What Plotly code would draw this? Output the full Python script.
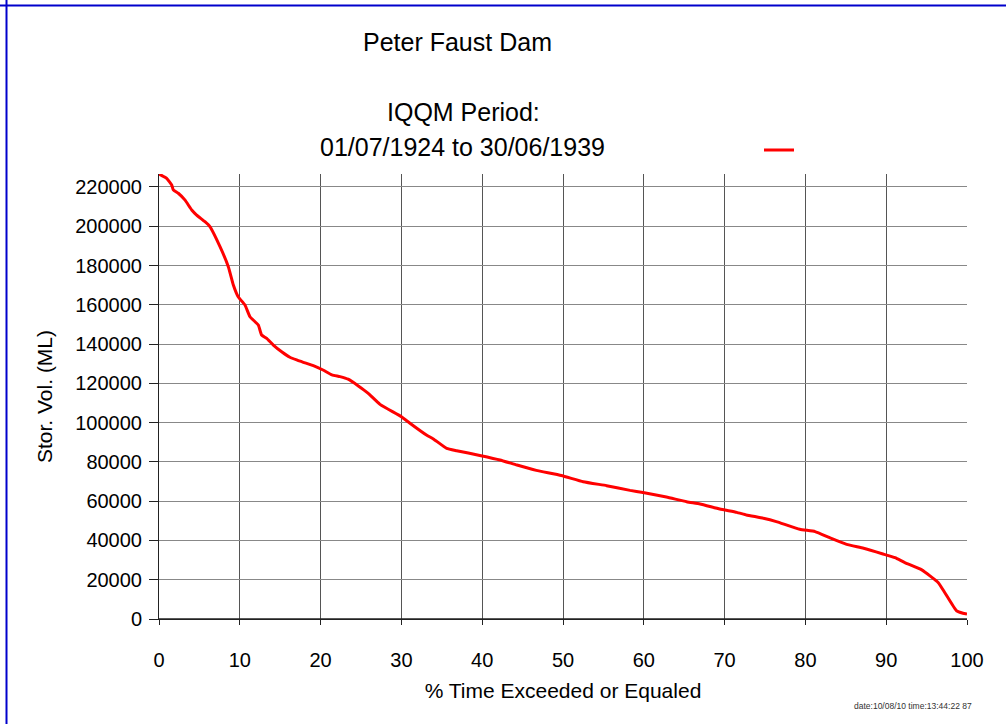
import plotly.graph_objects as go

pct_time = [0, 0.95, 1.57, 1.77, 2.39, 3.2, 4.05, 4.66, 5.69, 6.3, 7.55, 8.58, 9.2, 9.8,
            10.64, 11.26, 12.29, 12.7, 13.33, 14.15, 15.18, 16.2, 17.04, 17.86, 19.1,
            20.3, 21.4, 22.4, 23.4, 24.67, 25.9, 27.35, 30.0, 31.06, 33.1, 33.95, 35.6,
            36.84, 39.7, 42.2, 44.3, 46.7, 49.8, 52.5, 55.4, 58.3, 59.9, 62.8, 65.3,
            66.96, 69.4, 71.5, 72.7, 74.8, 76.4, 79.3, 81.2, 83.0, 85.1, 87.2, 89.6,
            91.1, 92.3, 94.4, 96.45, 97.3, 98.7, 99.5, 100]
storage = [226600, 224400, 221000, 218500, 216800, 213400, 208300, 205700, 202300, 199800,
           189600, 179400, 170100, 164100, 159900, 153900, 149700, 144600, 142900, 139500,
           136100, 133300, 131900, 130700, 129000, 126800, 124300, 123400, 122100, 118700,
           114900, 109300, 103000, 99700, 93700, 91700, 86900, 85700, 83300, 81000, 78400,
           75700, 73100, 69900, 67900, 65500, 64400, 62100, 59700, 58600, 56000, 54300,
           53000, 51300, 49600, 45700, 44500, 41400, 38000, 36000, 33100, 31200, 28700,
           25000, 18500, 13100, 4200, 2900, 2500]

x_ticks = [0, 10, 20, 30, 40, 50, 60, 70, 80, 90, 100]
y_ticks = [0, 20000, 40000, 60000, 80000, 100000, 120000, 140000, 160000, 180000, 200000, 220000]

FONT = "Liberation Sans Narrow, Liberation Sans, Arial, sans-serif"

fig = go.Figure()
fig.add_trace(go.Scatter(x=pct_time, y=storage, mode="lines", name="",
                         line=dict(color="#ff0000", width=3, shape="spline", smoothing=0.4),
                         showlegend=True))

L, R, T, B = 159, 39, 174, 105
W, H = 1006, 724
pw, ph = W - L - R, H - T - B

def px(x):
    return (x - L) / pw

def py(y):
    return (H - B - y) / ph

fig.update_layout(
    width=W, height=H,
    margin=dict(l=L, r=R, t=T, b=B),
    paper_bgcolor="white", plot_bgcolor="white",
    font=dict(family=FONT, color="black", size=19),
    legend=dict(x=px(759), y=py(150), xanchor="left", yanchor="middle",
                bgcolor="rgba(0,0,0,0)", font=dict(size=10)),
    xaxis=dict(range=[0, 100], tickvals=x_ticks, ticktext=[str(v) for v in x_ticks],
               showgrid=True, gridcolor="#555555", gridwidth=1,
               showline=True, linecolor="#222222", linewidth=1,
               ticks="outside", ticklen=5, tickcolor="#222222",
               tickfont=dict(size=20), ticklabelstandoff=18,
               title=dict(text="% Time Exceeded or Equaled", font=dict(size=21), standoff=13),
               zeroline=False, mirror=False),
    yaxis=dict(range=[0, 226600], tickvals=y_ticks, ticktext=[str(v) for v in y_ticks],
               showgrid=True, gridcolor="#888888", gridwidth=1,
               showline=True, linecolor="#222222", linewidth=1,
               ticks="outside", ticklen=9, tickcolor="#222222",
               tickfont=dict(size=20), ticklabelstandoff=3,
               title=dict(text="Stor. Vol. (ML)", font=dict(size=21), standoff=16),
               zeroline=False),
)

# Frame lines (top and left) in blue
fig.add_shape(type="line", xref="paper", yref="paper", x0=px(0), x1=px(W), y0=py(5.5), y1=py(5.5),
              line=dict(color="#0000cc", width=2))
fig.add_shape(type="line", xref="paper", yref="paper", x0=px(6.5), x1=px(6.5), y0=py(0), y1=py(H),
              line=dict(color="#0000cc", width=2))
fig.add_shape(type="line", xref="x", yref="y", x0=0, x1=100, y0=0, y1=0,
              line=dict(color="#222222", width=1.5))

anns = [
    ("Peter Faust Dam", 457, 42, 25),
    ("IQQM Period:", 463, 112, 25),
    ("01/07/1924 to 30/06/1939", 462, 147, 25),
]
for text, x, y, s in anns:
    fig.add_annotation(text=text, xref="paper", yref="paper", x=px(x), y=py(y),
                       xanchor="center", yanchor="middle", showarrow=False,
                       font=dict(size=s, family=FONT))
fig.add_annotation(text="date:10/08/10 time:13:44:22 87", xref="paper", yref="paper",
                   x=px(974), y=py(706), xanchor="right", yanchor="middle", showarrow=False,
                   font=dict(size=8.5, family=FONT, color="#333333"))

fig.write_html("out.html", config={"displayModeBar": False},
               post_script="document.body.style.margin='0px';")
